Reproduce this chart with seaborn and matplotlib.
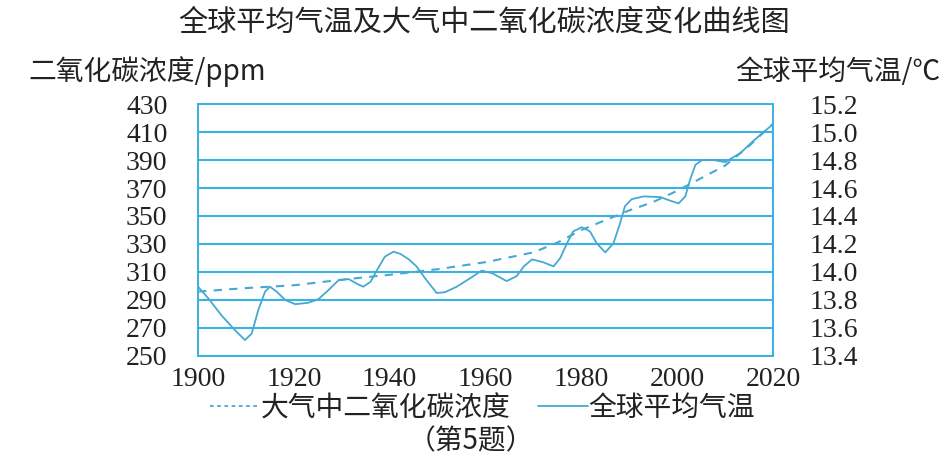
import numpy as np
import pandas as pd
import seaborn as sns
import matplotlib.pyplot as plt
from matplotlib.lines import Line2D

sns.set_theme(style="white")
plt.rcParams['font.family'] = ['Noto Sans CJK SC', 'DejaVu Sans']

# 数据
co2_years = [1900, 1910, 1920, 1930, 1940, 1950, 1960, 1970, 1975, 1980,
             1985, 1990, 1995, 2000, 2005, 2010, 2015, 2020]
co2_ppm = [296, 298.5, 300.5, 304.5, 308, 312, 317, 324, 331, 340,
           347, 354, 360, 368, 377, 386, 400, 416]

temp_years = [1900, 1902.2, 1904.9, 1907.7, 1909.8, 1911.2, 1912.6, 1914, 1915,
              1916.4, 1918.2, 1920.3, 1923, 1925.1, 1927.2, 1929.3, 1931.4,
              1933.5, 1934.5, 1936, 1937.3, 1939, 1940.8, 1942.2, 1944,
              1945.6, 1947.5, 1949.8, 1951.5, 1954, 1957, 1959.2, 1961.5,
              1964.4, 1966.5, 1968, 1969.7, 1972, 1974.2, 1975.6, 1977,
              1978.3, 1980.1, 1981.8, 1983.2, 1985, 1986.7, 1988.1, 1989.1,
              1990.5, 1993, 1996.5, 1998.5, 2000.3, 2001.7, 2002.7, 2003.8,
              2005.2, 2007.6, 2010, 2013.2, 2016, 2019.8]
temp_c = [13.895, 13.81, 13.69, 13.585, 13.514, 13.56, 13.73, 13.86, 13.895,
          13.86, 13.80, 13.77, 13.78, 13.805, 13.87, 13.94, 13.95,
          13.91, 13.895, 13.93, 14.01, 14.11, 14.145, 14.13, 14.09,
          14.04, 13.95, 13.85, 13.855, 13.895, 13.96, 14.01, 13.99,
          13.935, 13.97, 14.04, 14.09, 14.07, 14.04, 14.10, 14.205,
          14.29, 14.32, 14.29, 14.205, 14.14, 14.205, 14.35, 14.47,
          14.52, 14.54, 14.535, 14.51, 14.49, 14.54, 14.66, 14.765,
          14.80, 14.80, 14.785, 14.85, 14.94, 15.05]

left_ticks = list(range(250, 431, 20))
right_ticks = [13.4, 13.6, 13.8, 14.0, 14.2, 14.4, 14.6, 14.8, 15.0, 15.2]
x_ticks = [1900, 1920, 1940, 1960, 1980, 2000, 2020]

df_co2 = pd.DataFrame({'year': co2_years, 'ppm': co2_ppm})
df_temp = pd.DataFrame({'year': temp_years, 'temp': temp_c})

grid_color = '#3cb2e0'
line_color = '#45a9d2'
text_color = '#222222'
serif = ['Liberation Serif', 'DejaVu Serif']
cjk = ['Noto Sans CJK SC', 'DejaVu Sans']

fig = plt.figure(figsize=(9.42, 4.73), dpi=100)
ax1 = fig.add_axes([0.2102, 0.2474, 0.6104, 0.5327])
ax2 = ax1.twinx()

sns.lineplot(data=df_co2, x='year', y='ppm', ax=ax1, color=line_color,
             linewidth=1.5)
ax1.lines[0].set_dashes((4, 3.5))
sns.lineplot(data=df_temp, x='year', y='temp', ax=ax2, color=line_color,
             linewidth=1.3)

ax1.set_xlim(1900, 2020)
ax1.set_ylim(250, 430)
ax2.set_ylim(13.4, 15.2)
ax1.set_yticks(left_ticks)
ax2.set_yticks(right_ticks)
ax1.set_xticks(x_ticks)

# 横向网格线
for v in left_ticks:
    ax1.axhline(v, color=grid_color, linewidth=1.5, zorder=0)

for a in (ax1, ax2):
    for s in a.spines.values():
        s.set_color(grid_color)
        s.set_linewidth(1.3)
    a.set_xlabel('')
    a.set_ylabel('')
    a.grid(False)

ax1.tick_params(axis='y', length=0, pad=22)
ax1.tick_params(axis='x', length=0, pad=8)
ax2.tick_params(axis='y', length=0, pad=26)
ax1.set_yticklabels([str(v) for v in left_ticks], family=serif, fontsize=20, color=text_color)
ax2.set_yticklabels([f'{v:.1f}' for v in right_ticks], family=serif, fontsize=20, color=text_color)
ax1.set_xticklabels([str(v) for v in x_ticks], family=serif, fontsize=20, color=text_color)

fig.text(0.514, 0.953, '全球平均气温及大气中二氧化碳浓度变化曲线图', ha='center', va='center',
         fontsize=21, family=cjk, fontweight='light', color=text_color)
fig.text(0.03, 0.848, '二氧化碳浓度/ppm', ha='left', va='center',
         fontsize=20, family=cjk, fontweight='light', color=text_color)
fig.text(0.998, 0.848, '全球平均气温/℃', ha='right', va='center',
         fontsize=20, family=cjk, fontweight='light', color=text_color)

handles = [Line2D([], [], color=line_color, linewidth=1.3, dashes=(2, 2)),
           Line2D([], [], color=line_color, linewidth=1.3)]
fig.legend(handles, ['大气中二氧化碳浓度', '全球平均气温'], loc='center',
           bbox_to_anchor=(0.512, 0.137), ncol=2, frameon=False,
           prop={'family': cjk, 'size': 20, 'weight': 'light'}, handlelength=1.8,
           handletextpad=0.0, columnspacing=1.0, labelcolor=text_color)

fig.text(0.5, 0.068, '（第5题）', ha='center', va='center',
         fontsize=20, family=cjk, fontweight='light', color=text_color)

plt.savefig('out.png', dpi=100)
plt.close()
